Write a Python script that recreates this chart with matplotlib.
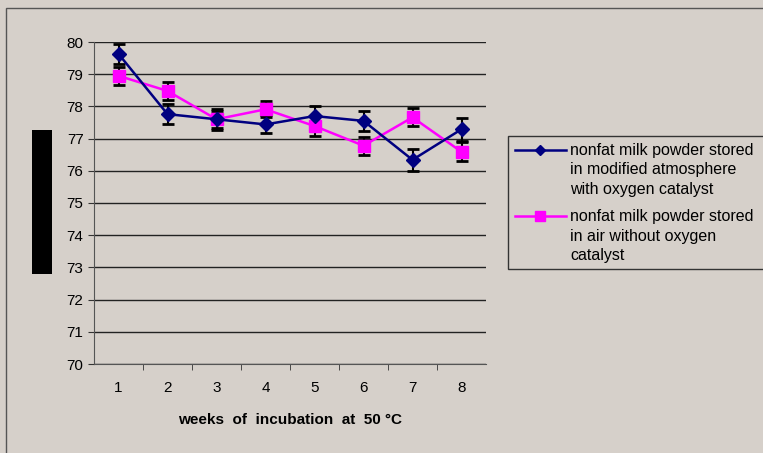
import numpy as np
import matplotlib.pyplot as plt
from matplotlib.patches import Rectangle
from matplotlib.lines import Line2D

plt.rcParams['font.family'] = ['Liberation Sans', 'DejaVu Sans']

weeks = [1, 2, 3, 4, 5, 6, 7, 8]
modified_atm = [79.63, 77.76, 77.60, 77.44, 77.70, 77.55, 76.34, 77.29]
modified_err = [0.32, 0.31, 0.26, 0.28, 0.31, 0.31, 0.34, 0.36]
air_no_catalyst = [78.95, 78.48, 77.60, 77.91, 77.39, 76.78, 77.66, 76.59]
air_err = [0.28, 0.27, 0.33, 0.25, 0.31, 0.28, 0.28, 0.30]

label_mod = "nonfat milk powder stored\nin modified atmosphere\nwith oxygen catalyst"
label_air = "nonfat milk powder stored\nin air without oxygen\ncatalyst"

bg = '#d6d0ca'
W, H = 763, 453
fig = plt.figure(figsize=(W / 100, H / 100), dpi=100, facecolor=bg)
ax = fig.add_axes([94 / W, 1 - 364 / H, (486 - 94) / W, (364 - 42) / H], facecolor=bg)

# outer frame and the black block on the left
fig.patches.append(Rectangle((6 / W, -0.1), 1.2, 1.1 - 8 / H, transform=fig.transFigure,
                             fill=False, edgecolor='#555555', lw=1))
fig.patches.append(Rectangle((32 / W, 1 - 274 / H), 20 / W, 144 / H, transform=fig.transFigure,
                             facecolor='black', edgecolor='none'))

ax.errorbar(weeks, modified_atm, yerr=modified_err, fmt='none', ecolor='black',
            elinewidth=1.5, capsize=4.5, capthick=2, zorder=2)
ax.errorbar(weeks, air_no_catalyst, yerr=air_err, fmt='none', ecolor='black',
            elinewidth=1.5, capsize=4.5, capthick=2, zorder=2)
ax.plot(weeks, modified_atm, color='#000080', marker='D', markersize=7.5, lw=1.8, zorder=4)
ax.plot(weeks, air_no_catalyst, color='#ff00ff', marker='s', markersize=9, lw=1.8, zorder=3)

ax.set_xlim(0.5, 8.5)
ax.set_ylim(70, 80)
ax.set_yticks(np.arange(70, 81, 1))
ax.set_xticks(weeks)
ax.set_xticks(np.arange(1.5, 8.5, 1), minor=True)
ax.tick_params(axis='x', which='major', length=0, labelsize=11, pad=12)
ax.tick_params(axis='x', which='minor', length=4, direction='out', color='#333333')
ax.tick_params(axis='y', length=4, direction='out', labelsize=11, color='#333333')
ax.yaxis.grid(True, color='#222222', lw=1)
ax.set_axisbelow(True)
for s in ['top', 'right']:
    ax.spines[s].set_visible(False)
for s in ['left', 'bottom']:
    ax.spines[s].set_color('#555555')

ax.set_xlabel("weeks  of  incubation  at  50 °C", fontsize=11, fontweight='bold', labelpad=13)

# legend box drawn by hand so the key sits beside the first line of each label
fig.patches.append(Rectangle((508 / W, 1 - 269 / H), 0.5, 133 / H, transform=fig.transFigure,
                             facecolor=bg, edgecolor='#333333', lw=1))
entries = [(label_mod, '#000080', 'D', 5, 150), (label_air, '#ff00ff', 's', 6.5, 216)]
for text, col, mk, ms, ypx in entries:
    y = 1 - ypx / H
    fig.add_artist(Line2D([515 / W, 566 / W], [y, y], color=col, lw=1.8,
                          transform=fig.transFigure))
    fig.add_artist(Line2D([540 / W], [y], color=col, marker=mk, markersize=ms,
                          transform=fig.transFigure))
    fig.text(570 / W, 1 - (ypx + 20) / H, text, fontsize=11.5, va='center', ha='left',
             linespacing=1.4)

fig.savefig('out.png', dpi=100, facecolor=bg)
